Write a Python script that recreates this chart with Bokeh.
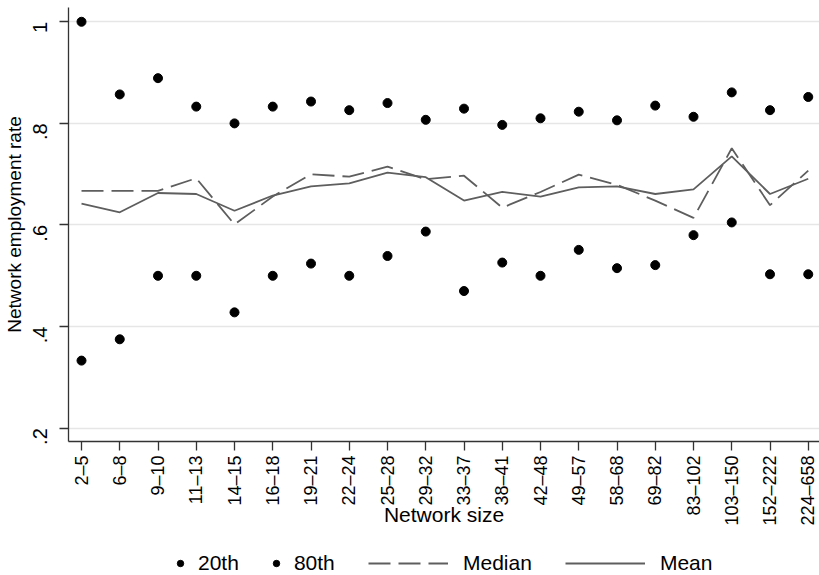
from math import pi
from bokeh.plotting import figure
from bokeh.layouts import column
from bokeh.models import Range1d, FixedTicker, Legend, LegendItem
from bokeh.embed import file_html
from bokeh.resources import INLINE

categories = ["2–5", "6–8", "9–10", "11–13", "14–15", "16–18", "19–21", "22–24",
              "25–28", "29–32", "33–37", "38–41", "42–48", "49–57", "58–68",
              "69–82", "83–102", "103–150", "152–222", "224–658"]
p20 = [0.333, 0.375, 0.500, 0.500, 0.428, 0.500, 0.524, 0.500, 0.539, 0.587,
       0.470, 0.526, 0.500, 0.551, 0.515, 0.521, 0.580, 0.605, 0.503, 0.503]
p80 = [1.000, 0.857, 0.889, 0.833, 0.800, 0.833, 0.843, 0.826, 0.840, 0.807,
       0.829, 0.797, 0.810, 0.823, 0.806, 0.835, 0.813, 0.861, 0.826, 0.852]
median = [0.667, 0.667, 0.667, 0.692, 0.601, 0.656, 0.700, 0.695, 0.715, 0.690,
          0.697, 0.634, 0.665, 0.699, 0.679, 0.648, 0.614, 0.751, 0.639, 0.707]
mean = [0.642, 0.625, 0.663, 0.661, 0.628, 0.658, 0.676, 0.682, 0.703, 0.694,
        0.648, 0.665, 0.656, 0.674, 0.676, 0.661, 0.670, 0.735, 0.661, 0.691]
y_ticks = [0.2, 0.4, 0.6, 0.8, 1.0]
y_tick_labels = [".2", ".4", ".6", ".8", "1"]

xs = list(range(1, len(categories) + 1))
FONT = "Liberation Sans"
LINE_COLOR = "#5e5e5e"
MAIN_H = 535

p = figure(width=819, height=MAIN_H, output_backend="svg", toolbar_location=None,
           x_range=Range1d(0.66, 20.294), y_range=Range1d(0.1738, 1.0281),
           min_border_left=68, min_border_right=0, min_border_top=7,
           min_border_bottom=MAIN_H - 441)
p.outline_line_color = None
p.background_fill_color = "white"
p.border_fill_color = "white"

# axes
p.xaxis.ticker = FixedTicker(ticks=xs)
p.xaxis.major_label_overrides = {x: c for x, c in zip(xs, categories)}
p.xaxis.major_label_orientation = pi / 2
p.yaxis.ticker = FixedTicker(ticks=y_ticks)
p.yaxis.major_label_overrides = {t: l for t, l in zip(y_ticks, y_tick_labels)}
p.yaxis.major_label_orientation = pi / 2
for ax in (p.xaxis, p.yaxis):
    ax.axis_line_color = "#333333"
    ax.axis_line_width = 1.3
    ax.major_tick_line_color = "#333333"
    ax.major_tick_line_width = 1.3
    ax.major_tick_out = 9
    ax.major_tick_in = 0
    ax.minor_tick_out = 0
    ax.minor_tick_in = 0
    ax.major_label_text_font = FONT
    ax.major_label_text_color = "black"
    ax.axis_label_text_font = FONT
    ax.axis_label_text_font_style = "normal"
    ax.axis_label_text_color = "black"
p.xaxis.major_label_text_font_size = "18px"
p.xaxis.major_label_standoff = 5
p.xaxis.axis_label = "Network size"
p.xaxis.axis_label_text_font_size = "21px"
p.xaxis.axis_label_standoff = -26
p.yaxis.major_label_text_font_size = "20px"
p.yaxis.major_label_standoff = 19
p.yaxis.axis_label = "Network employment rate"
p.yaxis.axis_label_text_font_size = "19px"
p.yaxis.axis_label_standoff = -1

p.xgrid.visible = False
p.ygrid.ticker = FixedTicker(ticks=y_ticks)
p.ygrid.grid_line_color = "#e6e6e6"
p.ygrid.grid_line_width = 1.5

# data
p.scatter(xs, p20, size=9, marker="circle", color="black")
p.scatter(xs, p80, size=9, marker="circle", color="black")
p.line(xs, median, line_color=LINE_COLOR, line_width=1.8, line_dash="22 8")
p.line(xs, mean, line_color=LINE_COLOR, line_width=1.8)

# legend strip below the chart (its frame is aligned with the main frame)
lg = figure(width=819, height=575 - MAIN_H, output_backend="svg",
            toolbar_location=None, x_range=Range1d(0, 1), y_range=Range1d(0, 1),
            min_border=0)
lg.axis.visible = False
lg.grid.visible = False
lg.outline_line_color = None
lg.background_fill_color = "white"
lg.border_fill_color = "white"
# legend keys: styled like the chart's marks, kept outside the visible range
k20 = lg.scatter([-5], [-5], size=9, marker="circle", color="black")
k80 = lg.scatter([-5], [-5], size=9, marker="circle", color="black")
kmed = lg.line([-6, -5], [-5, -5], line_color=LINE_COLOR, line_width=1.8,
               line_dash="22 8")
kmean = lg.line([-6, -5], [-5, -5], line_color=LINE_COLOR, line_width=1.8)

common = dict(orientation="horizontal", padding=0, margin=0, border_line_color=None,
              background_fill_alpha=0, label_text_font=FONT,
              label_text_font_size="21px", label_text_color="black",
              label_height=16, glyph_height=16)
leg1 = Legend(items=[LegendItem(label="20th", renderers=[k20]),
                     LegendItem(label="80th", renderers=[k80])],
              location=(104, 0), glyph_width=16, label_standoff=10, spacing=29,
              **common)
leg2 = Legend(items=[LegendItem(label="Median", renderers=[kmed]),
                     LegendItem(label="Mean", renderers=[kmean])],
              location=(300, 0), glyph_width=80, label_standoff=15, spacing=33,
              **common)
lg.add_layout(leg1)
lg.add_layout(leg2)

layout = column(p, lg, spacing=0)
open("out.html", "w").write(file_html(layout, INLINE))
